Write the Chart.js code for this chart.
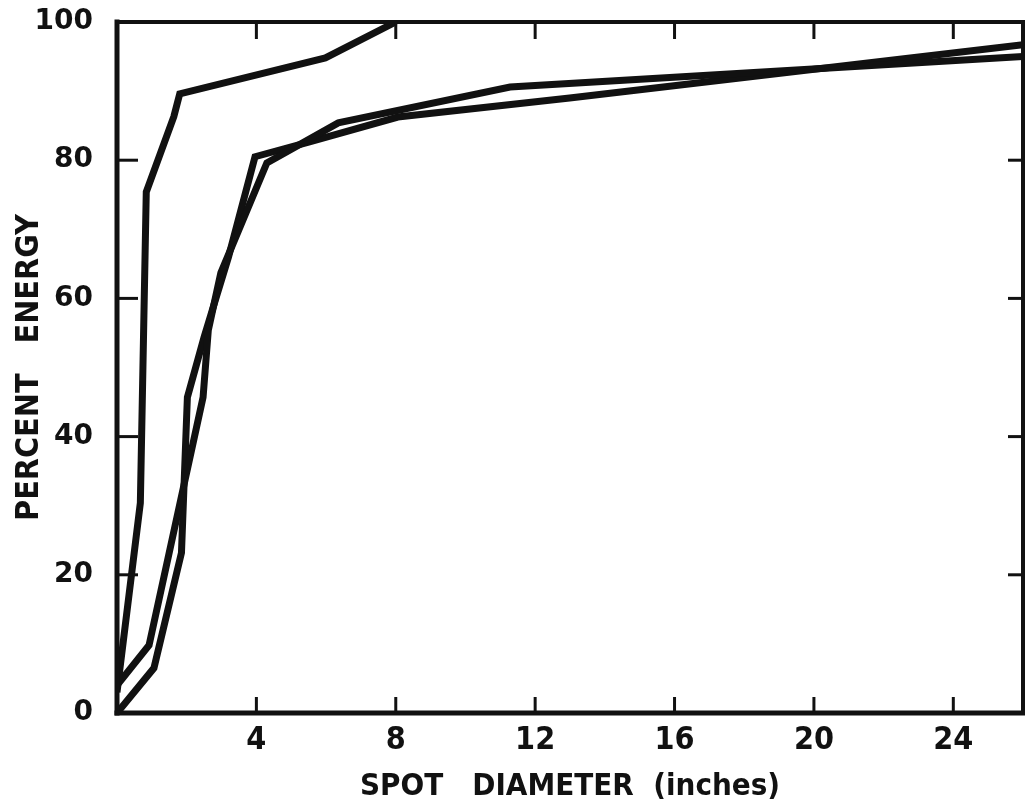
<!DOCTYPE html>
<html>
<head>
<meta charset="utf-8">
<script src="https://cdn.jsdelivr.net/npm/chart.js@4.4.1/dist/chart.umd.min.js"></script>
<style>
  html, body { margin: 0; padding: 0; background: #ffffff; }
  #wrap { width: 1025px; height: 807px; }
</style>
</head>
<body>
<div id="wrap"><canvas id="c" width="1025" height="807"></canvas></div>
<script>
// ---- data ----
const xTickValues = [4, 8, 12, 16, 20, 24];
const yTickValues = [0, 20, 40, 60, 80, 100];

const curveA_x = [0, 0.67, 0.84, 1.63, 1.80, 5.98, 8.0];
const curveA_y = [3, 30.4, 75.4, 86.3, 89.6, 94.8, 100];

const curveB_x = [0, 0.92, 2.47, 2.62, 2.98, 4.30, 6.35, 11.28, 26];
const curveB_y = [4, 9.8, 45.7, 55.4, 63.7, 79.6, 85.4, 90.6, 95.0];

const curveC_x = [0, 1.06, 1.85, 2.02, 2.50, 3.20, 3.96, 5.50, 8.06, 12.99, 26];
const curveC_y = [0, 6.5, 23.2, 45.7, 54.4, 66.0, 80.5, 82.6, 86.25, 89.0, 96.7];

const xTitle = 'SPOT   DIAMETER  (inches)';
const yTitle = 'PERCENT   ENERGY';

// ---- styling ----
const INK = '#111111';
const narrowFont = '"Liberation Sans Narrow", "DejaVu Sans Condensed", "Liberation Sans", sans-serif';
const wideFont = '"DejaVu Sans", "Liberation Sans", sans-serif';

function pts(xs, ys) { return xs.map((v, i) => ({ x: v, y: ys[i] })); }

function lineDs(xs, ys) {
  return {
    data: pts(xs, ys),
    borderColor: INK,
    borderWidth: 7,
    pointRadius: 0,
    tension: 0,
    fill: false,
    borderJoinStyle: 'miter',
    borderCapStyle: 'butt'
  };
}

const framePlugin = {
  id: 'frame',
  afterDatasetsDraw(chart) {
    const { ctx, chartArea: a, scales: { x, y } } = chart;
    const seg = (x1, y1, x2, y2) => { ctx.beginPath(); ctx.moveTo(x1, y1); ctx.lineTo(x2, y2); ctx.stroke(); };
    ctx.save();
    ctx.strokeStyle = INK;
    ctx.lineCap = 'square';
    ctx.lineWidth = 5;
    seg(a.left, a.top, a.left, a.bottom);
    seg(a.left, a.bottom, a.right, a.bottom);
    ctx.lineWidth = 4;
    seg(a.left, a.top, a.right, a.top);
    seg(a.right, a.top, a.right, a.bottom);
    ctx.lineCap = 'butt';
    ctx.lineWidth = 3;
    xTickValues.forEach(v => {
      const px = x.getPixelForValue(v);
      seg(px, a.top, px, a.top + 17);
      seg(px, a.bottom, px, a.bottom - 16);
    });
    yTickValues.forEach(v => {
      if (v === 0 || v === 100) return;
      const py = y.getPixelForValue(v);
      seg(a.left, py, a.left + 21, py);
      seg(a.right, py, a.right - 15, py);
    });
    ctx.restore();
  }
};

new Chart(document.getElementById('c'), {
  type: 'line',
  data: {
    datasets: [
      lineDs(curveA_x, curveA_y),
      lineDs(curveB_x, curveB_y),
      lineDs(curveC_x, curveC_y)
    ]
  },
  options: {
    responsive: false,
    animation: false,
    devicePixelRatio: 1,
    events: [],
    layout: { padding: { top: 22, right: 2, left: 0, bottom: 0 } },
    plugins: { legend: { display: false }, tooltip: { enabled: false } },
    scales: {
      x: {
        type: 'linear',
        min: 0,
        max: 26,
        afterBuildTicks: s => { s.ticks = xTickValues.map(v => ({ value: v })); },
        afterFit: s => { s.height = 94; s.paddingLeft = 0; s.paddingRight = 0; },
        grid: { display: false },
        border: { display: false },
        ticks: {
          color: INK,
          padding: 0,
          maxRotation: 0,
          autoSkip: false,
          font: { family: narrowFont, size: 32, weight: 'bold' }
        },
        title: {
          display: true,
          text: xTitle,
          color: INK,
          padding: { top: 0, bottom: 1 },
          font: { family: narrowFont, size: 31, weight: 'bold' }
        }
      },
      y: {
        type: 'linear',
        min: 0,
        max: 100,
        afterBuildTicks: s => { s.ticks = yTickValues.map(v => ({ value: v })); },
        afterFit: s => { s.width = 117; s.paddingTop = 0; s.paddingBottom = 0; },
        grid: { display: false },
        border: { display: false },
        ticks: {
          color: INK,
          padding: 16,
          autoSkip: false,
          font: { family: wideFont, size: 28, weight: 'bold' }
        },
        title: {
          display: true,
          text: yTitle,
          color: INK,
          padding: { top: 10, bottom: 0 },
          font: { family: narrowFont, size: 32, weight: 'bold' }
        }
      }
    }
  },
  plugins: [framePlugin]
});
</script>
</body>
</html>
